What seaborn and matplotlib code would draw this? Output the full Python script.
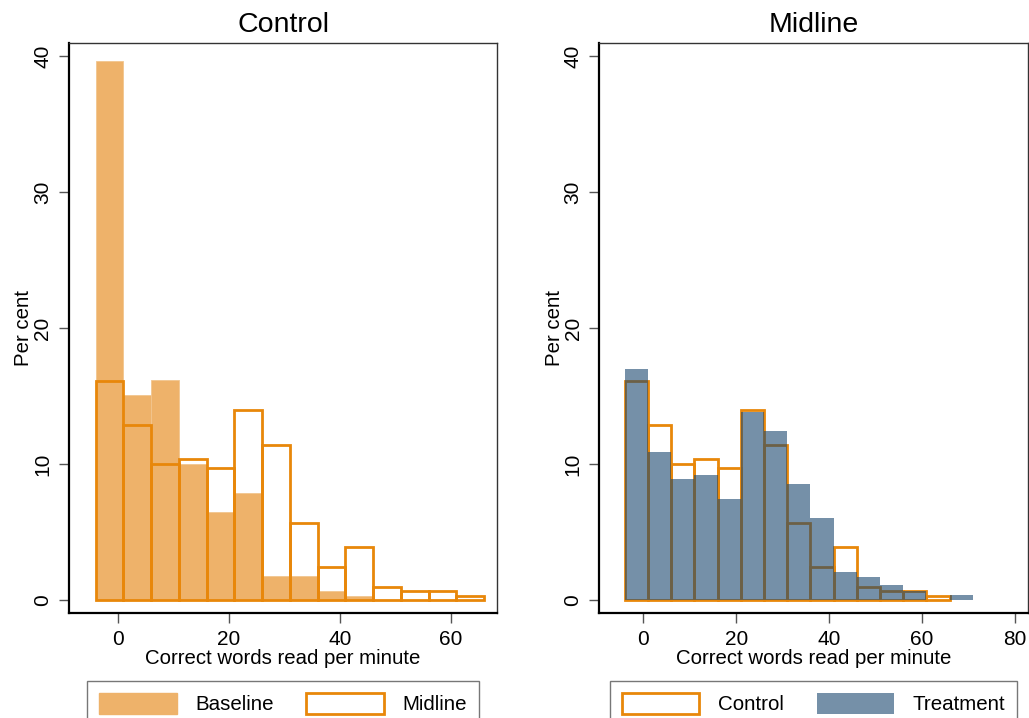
import numpy as np
import pandas as pd
import seaborn as sns
import matplotlib
matplotlib.use("Agg")
import matplotlib.pyplot as plt
from matplotlib.patches import Patch

# ---- data (percent of pupils per 5-word bin) ----
bin_edges_control = [-4, 1, 6, 11, 16, 21, 26, 31, 36, 41, 46, 51, 56, 61, 66]
bin_edges_midline = [-4, 1, 6, 11, 16, 21, 26, 31, 36, 41, 46, 51, 56, 61, 66, 71]
control_baseline = [39.6, 15.1, 16.2, 10.0, 6.5, 7.9, 1.8, 1.8, 0.7, 0.3, 0.0, 0.0, 0.0, 0.0]
control_midline = [16.1, 12.9, 10.0, 10.4, 9.7, 14.0, 11.4, 5.7, 2.4, 3.9, 1.0, 0.7, 0.7, 0.3]
treatment_midline = [17.0, 10.9, 8.9, 9.2, 7.4, 13.8, 12.4, 8.5, 6.0, 2.1, 1.7, 1.1, 0.7, 0.0, 0.4]
panel_titles = ["Control", "Midline"]
x_label = "Correct words read per minute"
y_label = "Per cent"

ORANGE = "#E8870A"
LIGHT_ORANGE = "#EEB26A"
NAVY = "#1A476F"

sns.set_style("ticks")
plt.rcParams["font.family"] = ["Liberation Sans", "DejaVu Sans"]
plt.rcParams["text.color"] = "black"
plt.rcParams["axes.labelcolor"] = "black"
plt.rcParams["xtick.labelcolor"] = "black"
plt.rcParams["ytick.labelcolor"] = "black"

fig = plt.figure(figsize=(10.29, 7.18), dpi=100)
ax1 = fig.add_axes([0.0671, 0.1462, 0.4159, 0.7938])
ax2 = fig.add_axes([0.5824, 0.1462, 0.4163, 0.7938])


def centers(edges):
    e = np.asarray(edges, dtype=float)
    return (e[:-1] + e[1:]) / 2


# Left panel: Control schools, baseline vs midline
sns.histplot(x=centers(bin_edges_control), weights=control_baseline, bins=bin_edges_control,
             stat="count", color=LIGHT_ORANGE, alpha=1, edgecolor="#F2C58E", linewidth=0.6, ax=ax1)
sns.histplot(x=centers(bin_edges_control), weights=control_midline, bins=bin_edges_control,
             stat="count", fill=False, color=ORANGE, linewidth=2.0, ax=ax1)

# Right panel: Midline, control vs treatment
sns.histplot(x=centers(bin_edges_control), weights=control_midline, bins=bin_edges_control,
             stat="count", fill=False, color=ORANGE, linewidth=2.0, ax=ax2)
sns.histplot(x=centers(bin_edges_midline), weights=treatment_midline, bins=bin_edges_midline,
             stat="count", color=NAVY, alpha=0.6, linewidth=0, ax=ax2)

for ax, title, xlim, xticks in [
    (ax1, panel_titles[0], (-8.8, 68.3), [0, 20, 40, 60]),
    (ax2, panel_titles[1], (-9.5, 82.8), [0, 20, 40, 60, 80]),
]:
    ax.set_xlim(*xlim)
    ax.set_ylim(-0.95, 40.95)
    ax.set_xticks(xticks)
    ax.set_yticks([0, 10, 20, 30, 40])
    ax.set_title(title, fontsize=20.5, pad=8)
    ax.set_xlabel(x_label, fontsize=14.7, labelpad=0)
    ax.set_ylabel(y_label, fontsize=14.7, labelpad=0)
    ax.tick_params(axis="both", labelsize=15, length=7, width=1, color="#555555",
                   direction="out", pad=5)
    for lbl in ax.get_yticklabels():
        lbl.set_rotation(90)
        lbl.set_va("center")
    for side in ["left", "bottom"]:
        ax.spines[side].set_linewidth(1.6)
        ax.spines[side].set_color("black")
    for side in ["top", "right"]:
        ax.spines[side].set_visible(True)
        ax.spines[side].set_linewidth(1.0)
        ax.spines[side].set_color("#333333")

legend_kw = dict(loc="upper center", bbox_to_anchor=(0.5, -0.119), ncol=2, fontsize=14.8,
                 frameon=True, fancybox=False, handlelength=3.75, handleheight=1.15,
                 handletextpad=0.9, columnspacing=1.6, borderpad=0.6, borderaxespad=0)

h1 = [Patch(facecolor=LIGHT_ORANGE, edgecolor=LIGHT_ORANGE, label="Baseline"),
      Patch(facecolor="white", edgecolor=ORANGE, linewidth=2, label="Midline")]
leg1 = ax1.legend(handles=h1, **legend_kw)
h2 = [Patch(facecolor="white", edgecolor=ORANGE, linewidth=2, label="Control"),
      Patch(facecolor=NAVY, alpha=0.6, edgecolor="none", label="Treatment")]
leg2 = ax2.legend(handles=h2, **legend_kw)
for leg in (leg1, leg2):
    leg.get_frame().set_edgecolor("#555555")
    leg.get_frame().set_linewidth(1.0)

fig.savefig("out.png", dpi=100, facecolor="white")
